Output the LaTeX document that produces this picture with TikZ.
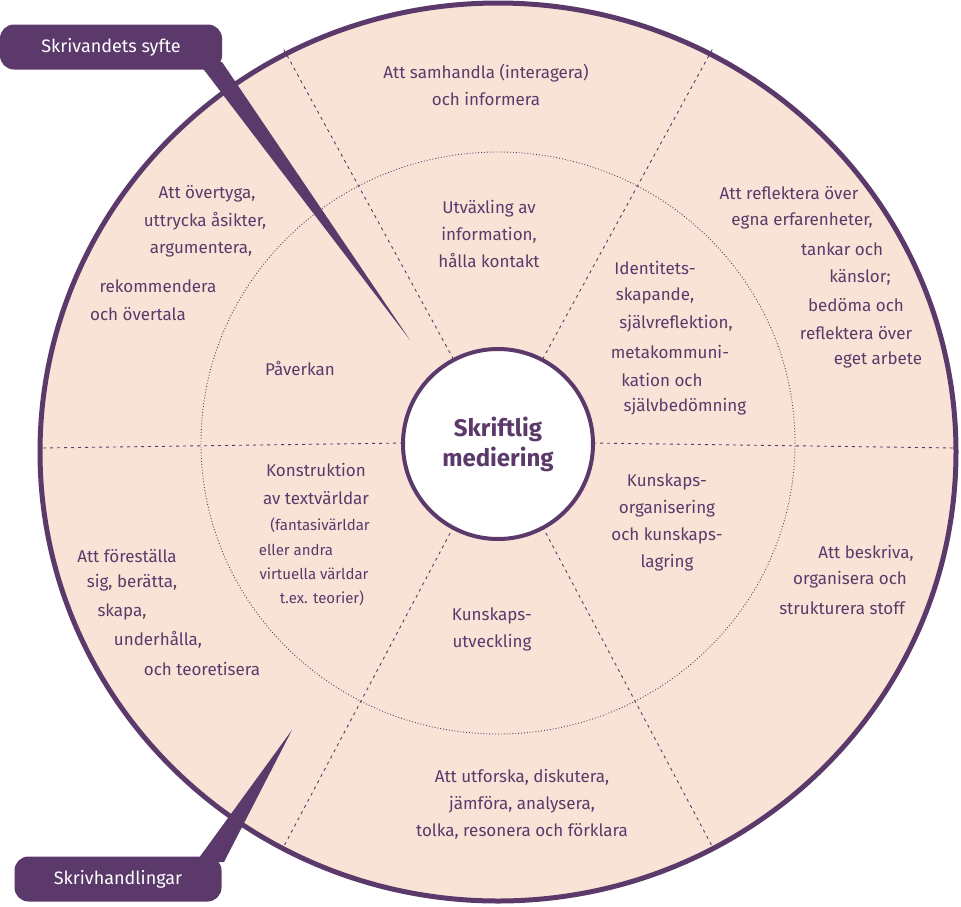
\documentclass[tikz,border=0pt]{standalone}
\usepackage{fontspec}
\setmainfont{Fira Sans}
\definecolor{pur}{HTML}{5B3A6B}
\definecolor{peach}{HTML}{F9E3D6}
\begin{document}
\begin{tikzpicture}[x=1pt,y=-1pt,
  txt/.style={text=pur,font=\fontsize{17}{27}\selectfont,inner sep=0pt},
  sm/.style={text=pur,font=\fontsize{15}{24}\selectfont,inner sep=0pt},
  blk/.style={txt,align=center},
  callout/.style={fill=pur,text=white,rounded corners=14pt,font=\fontsize{18}{22}\selectfont,minimum height=45pt,inner sep=0pt},
  divider/.style={pur,dashed,dash pattern=on 3pt off 4pt,line width=0.9pt}]
\useasboundingbox (0,0) rectangle (961,906);
% outer disc
\draw[pur,line width=5pt,fill=peach] (498,452) ellipse [x radius=458,y radius=449];
% inner dotted ring
\draw[pur,dotted,line width=0.9pt] (498,443) ellipse [x radius=297,y radius=291];
% dividers
\foreach \t in {0,62,118,180,242,298}{
  \draw[divider] ({498+95*cos(\t)},{443-95*sin(\t)}) -- ({498+457*cos(\t)},{448-452*sin(\t)});
}
% centre
\node[circle,draw=pur,line width=4pt,fill=white,minimum size=190pt,inner sep=0pt,
  text=pur,font=\fontsize{24}{30}\selectfont\bfseries,align=center] (c) at (498,444) {Skriftlig\\mediering};
% callouts
\node[callout,minimum width=222pt] (b1) at (111,47) {Skrivandets syfte};
\fill[pur] (198,62) -- (222,62) -- (410,340) -- cycle;
\node[callout,minimum width=207pt] (b2) at (118,879) {Skrivhandlingar};
\fill[pur] (196,862) -- (224,862) -- (292,730) -- cycle;
% texts
\node[blk] (t1) at (486,85) {Att samhandla (interagera)\\och informera};
\node[blk] (t2) at (489,234) {Utväxling av\\information,\\hålla kontakt};
\node[txt] (a1) at (207,194) {Att övertyga,};
\node[txt] (a2) at (205,221) {uttrycka åsikter,};
\node[txt] (a3) at (201,250) {argumentera,};
\node[txt] (a4) at (158,286) {rekommendera};
\node[txt] (a5) at (138,314) {och övertala};
\node[txt] (p) at (300,368) {Påverkan};
\node[txt] (r1) at (789,193) {Att reflektera över};
\node[txt] (r2) at (802,221) {egna erfarenheter,};
\node[txt] (r3) at (842,249) {tankar och};
\node[txt] (r4) at (860,277) {känslor;};
\node[txt] (r5) at (856,305) {bedöma och};
\node[txt] (r6) at (856,333) {reflektera över};
\node[txt] (r7) at (878,360) {eget arbete};
\node[txt] (i1) at (655,268) {Identitets-};
\node[txt] (i2) at (655,296) {skapande,};
\node[txt] (i3) at (676,324) {självreflektion,};
\node[txt] (i4) at (670,352) {metakommuni-};
\node[txt] (i5) at (662,380) {kation och};
\node[txt] (i6) at (685,407) {självbedömning};
\node[txt] (k1) at (316,470) {Konstruktion};
\node[txt] (k2) at (316,498) {av textvärldar};
\node[sm] (k3) at (320,525) {(fantasivärldar};
\node[sm] (k4) at (296,550) {eller andra};
\node[sm] (k5) at (314,574) {virtuella världar};
\node[sm] (k6) at (322,598) {t.ex. teorier)};
\node[blk] (o1) at (667,522) {Kunskaps-\\organisering\\och kunskaps-\\lagring};
\node[blk] (u1) at (492,629) {Kunskaps-\\utveckling};
\node[txt] (f1) at (127,556) {Att föreställa};
\node[txt] (f2) at (132,583) {sig, berätta,};
\node[txt] (f3) at (122,612) {skapa,};
\node[txt] (f4) at (158,640) {underhålla,};
\node[txt] (f5) at (202,669) {och teoretisera};
\node[txt] (s1) at (866,553) {Att beskriva,};
\node[txt] (s2) at (850,580) {organisera och};
\node[txt] (s3) at (842,608) {strukturera stoff};
\node[blk] (e1) at (522,804) {Att utforska, diskutera,\\jämföra, analysera,\\tolka, resonera och förklara};
\end{tikzpicture}
\end{document}
